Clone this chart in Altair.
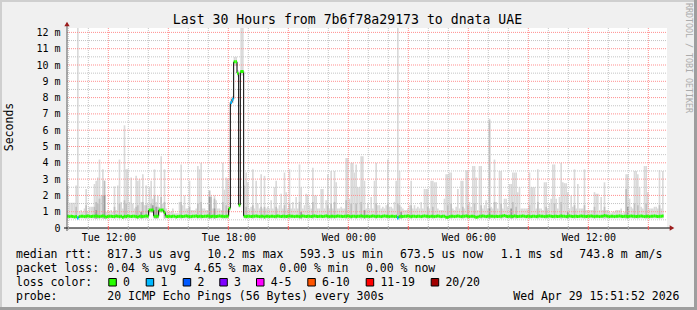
import altair as alt
import pandas as pd

# ---------------- data ----------------
START_H = 9 + 56 / 60          # Tue 09:56, hours since Tue 00:00
STEP_H = 5 / 60                # 5-minute probe interval
X_MIN, X_MAX = START_H, START_H + 30
Y_MAX = 12.27                  # ms

# max ping per interval (light smoke top), ms
smoke_top = [
    2.6, 1.55, 1.55, 1.55, 1.55, 2.6, 12.3, 1.0, 1.1, 1.0,
    1.2, 2.4, 1.0, 1.3, 1.3, 1.3, 2.7, 2.9, 3.1, 4.2,
    2.0, 3.6, 2.9, 1.0, 1.1, 1.0, 1.1, 1.0, 2.55, 1.1,
    2.6, 4.2, 1.6, 1.2, 6.3, 3.6, 3.6, 1.6, 3.1, 1.5,
    1.2, 3.2, 2.9, 3.0, 1.6, 3.3, 1.4, 2.6, 1.5, 2.5,
    2.9, 1.8, 3.6, 1.6, 2.0, 1.3, 4.4, 1.5, 3.6, 1.2,
    1.0, 1.0, 1.0, 1.2, 0.9, 0.9, 0.9, 1.6, 3.9, 1.4,
    2.0, 1.2, 1.2, 2.9, 1.1, 1.1, 1.1, 1.2, 3.8, 3.6,
    4.0, 1.2, 1.2, 1.1, 1.1, 2.3, 2.0, 1.2, 2.0, 1.7,
    1.2, 1.2, 1.1, 4.0, 2.35, 3.1, 3.0, 1.3, 8.0, 8.1,
    10.5, 10.5, 9.7, 1.5, 12.3, 12.3, 2.6, 3.4, 2.8, 1.2,
    1.3, 3.6, 1.2, 2.9, 1.5, 1.2, 3.3, 1.2, 3.2, 1.2,
    1.3, 1.2, 1.7, 1.2, 2.5, 2.9, 1.2, 1.4, 2.1, 1.2,
    3.4, 2.2, 1.2, 3.6, 1.2, 1.6, 1.2, 1.9, 1.2, 3.9,
    2.5, 1.2, 1.4, 2.1, 2.0, 1.4, 1.2, 3.7, 2.0, 2.0,
    1.2, 1.2, 2.4, 2.4, 1.2, 1.7, 3.3, 1.2, 3.5, 1.2,
    3.5, 2.8, 1.2, 1.2, 1.3, 1.2, 1.2, 4.3, 4.3, 1.8,
    4.0, 4.0, 3.4, 3.9, 2.5, 2.5, 4.4, 4.4, 2.9, 1.2,
    1.5, 1.2, 1.9, 1.2, 2.9, 4.0, 1.4, 1.4, 1.2, 1.3,
    1.2, 1.4, 4.2, 1.3, 1.3, 1.2, 1.6, 2.9, 12.3, 3.5,
    1.3, 1.2, 1.1, 1.1, 1.2, 1.4, 2.9, 1.2, 1.4, 1.2,
    1.3, 1.2, 1.6, 1.2, 2.4, 2.4, 2.4, 1.2, 2.9, 2.9,
    2.8, 2.8, 1.2, 1.1, 1.1, 1.1, 1.8, 3.3, 3.3, 3.4,
    3.4, 1.2, 1.1, 1.3, 2.4, 1.2, 2.9, 2.9, 1.2, 3.55,
    3.55, 1.6, 1.3, 3.8, 3.8, 3.1, 1.1, 3.8, 3.8, 1.2,
    1.4, 1.7, 1.2, 6.7, 1.3, 1.2, 4.2, 1.6, 1.2, 3.5,
    3.5, 1.2, 1.8, 1.8, 1.3, 2.7, 2.7, 3.4, 3.4, 3.4,
    2.2, 2.5, 1.2, 1.2, 1.2, 1.2, 1.2, 3.4, 2.5, 2.5,
    2.5, 1.2, 3.6, 1.2, 1.2, 1.1, 2.8, 2.8, 1.2, 1.5,
    1.8, 3.9, 3.9, 1.8, 1.2, 1.9, 4.0, 2.8, 2.75, 2.75,
    2.2, 1.2, 2.0, 1.3, 3.6, 1.2, 2.7, 1.2, 1.2, 1.2,
    3.6, 1.1, 1.1, 1.1, 1.1, 1.1, 2.2, 2.1, 2.1, 1.1,
    1.9, 1.1, 2.8, 1.1, 1.1, 1.0, 0.9, 1.0, 1.0, 1.1,
    1.1, 1.1, 1.2, 0.9, 1.0, 3.3, 3.3, 1.8, 1.3, 1.2,
    3.5, 3.5, 3.3, 2.5, 1.3, 1.2, 3.8, 3.8, 2.2, 1.2,
    1.2, 1.2, 1.3, 1.3, 1.2, 3.55, 1.2, 3.5,
]

# median rtt per interval, ms
median_rtt = [
    0.72, 0.70, 0.72, 0.70, 0.68, 0.70, 0.62, 0.70, 0.72, 0.72,
    0.70, 0.72, 0.74, 0.72, 0.70, 0.72, 0.72, 0.74, 0.72, 0.70,
    0.72, 0.74, 0.72, 0.68, 0.70, 0.72, 0.72, 0.70, 0.70, 0.74,
    0.72, 0.70, 0.72, 0.66, 0.72, 0.70, 0.74, 0.72, 0.70, 0.72,
    0.72, 0.70, 0.68, 0.72, 0.72, 0.70, 0.72, 0.74, 0.72, 1.10,
    1.10, 1.10, 0.72, 0.72, 0.72, 1.10, 1.10, 1.10, 0.95, 0.72,
    0.70, 0.72, 0.70, 0.72, 0.72, 0.68, 0.70, 0.72, 0.72, 0.70,
    0.72, 0.74, 0.72, 0.70, 0.70, 0.72, 0.72, 0.74, 0.70, 0.72,
    0.72, 0.70, 0.72, 0.72, 0.74, 0.72, 0.70, 0.72, 0.72, 0.70,
    0.72, 0.74, 0.72, 0.72, 0.70, 0.72, 0.72, 1.20, 7.70, 7.90,
    10.2, 10.2, 9.50, 1.40, 9.60, 9.60, 0.72, 0.70, 0.72, 0.72,
    0.70, 0.72, 0.72, 0.74, 0.72, 0.70, 0.72, 0.72, 0.68, 0.72,
    0.72, 0.70, 0.72, 0.72, 0.70, 0.72, 0.74, 0.72, 0.70, 0.72,
    0.72, 0.70, 0.72, 0.74, 0.72, 0.72, 0.70, 0.72, 0.72, 0.70,
    0.72, 0.74, 0.72, 0.70, 0.72, 0.72, 0.70, 0.72, 0.74, 0.72,
    0.70, 0.72, 0.72, 0.70, 0.72, 0.74, 0.72, 0.70, 0.72, 0.72,
    0.70, 0.72, 0.74, 0.72, 0.72, 0.70, 0.72, 0.72, 0.74, 0.72,
    0.70, 0.72, 0.72, 0.70, 0.72, 0.72, 0.74, 0.72, 0.70, 0.72,
    0.72, 0.70, 0.72, 0.74, 0.72, 0.70, 0.72, 0.72, 0.70, 0.72,
    0.74, 0.72, 0.72, 0.70, 0.72, 0.72, 0.70, 0.72, 0.62, 0.70,
    0.72, 0.70, 0.72, 0.72, 0.74, 0.72, 0.70, 0.72, 0.72, 0.70,
    0.72, 0.72, 0.70, 0.72, 0.74, 0.72, 0.72, 0.70, 0.72, 0.72,
    0.70, 0.72, 0.74, 0.72, 0.70, 0.72, 0.72, 0.66, 0.66, 0.70,
    0.72, 0.72, 0.70, 0.72, 0.74, 0.72, 0.70, 0.72, 0.72, 0.74,
    0.72, 0.70, 0.72, 0.72, 0.70, 0.66, 0.68, 0.72, 0.72, 0.74,
    0.72, 0.70, 0.72, 0.74, 0.72, 0.72, 0.70, 0.72, 0.70, 0.72,
    0.72, 0.74, 0.76, 0.72, 0.70, 0.72, 0.72, 0.70, 0.74, 0.72,
    0.70, 0.72, 0.72, 0.74, 0.72, 0.70, 0.72, 0.72, 0.70, 0.72,
    0.72, 0.70, 0.72, 0.74, 0.72, 0.72, 0.70, 0.72, 0.72, 0.74,
    0.72, 0.70, 0.72, 0.72, 0.70, 0.72, 0.74, 0.72, 0.72, 0.70,
    0.72, 0.74, 0.72, 0.70, 0.72, 0.72, 0.70, 0.72, 0.74, 0.72,
    0.72, 0.70, 0.72, 0.72, 0.74, 0.72, 0.70, 0.72, 0.72, 0.70,
    0.72, 0.72, 0.76, 0.74, 0.72, 0.70, 0.72, 0.72, 0.70, 0.72,
    0.72, 0.74, 0.72, 0.70, 0.72, 0.72, 0.70, 0.72, 0.74, 0.72,
    0.72, 0.70, 0.72, 0.72, 0.74, 0.72, 0.70, 0.72, 0.72, 0.70,
    0.72, 0.72, 0.74, 0.72, 0.70, 0.72, 0.72, 0.74,
]

SMOKE_FLOOR = 0.58                         # min ping, usual
floor_idx = [49, 50, 51, 55, 56, 57, 97, 98, 99, 100, 101, 102, 103, 104, 105]
floor_val = [0.95, 0.95, 0.95, 0.95, 0.95, 0.95, 1.05, 7.45, 7.65, 9.95, 9.95, 9.3, 1.25, 9.35, 9.35]

# mid-grey smoke (inner pings)
mid_idx = [5, 11, 16, 17, 18, 19, 21, 22, 28, 31, 34, 35, 41, 42, 45, 47, 50, 52, 54, 56,
           58, 68, 73, 78, 80, 85, 86, 88, 93, 95, 107, 111, 116, 118, 125, 130, 133, 139, 147, 156,
           158, 160, 167, 170, 173, 176, 185, 192, 198, 199, 206, 216, 219, 228, 230, 237, 240, 244, 248, 253,
           256, 260, 267, 269, 277, 282, 287, 292, 296, 304, 310, 316, 322, 335, 340, 342, 347, 355]
mid_val = [1.3, 1.4, 1.3, 1.6, 1.5, 1.8, 2.0, 2.9, 1.3, 1.5, 1.7, 1.5, 1.3, 1.4, 1.6, 1.4, 1.5, 2.0, 1.3, 1.9,
           1.6, 1.6, 1.3, 1.5, 1.6, 2.3, 1.9, 1.8, 1.6, 1.4, 1.3, 1.4, 1.3, 1.3, 1.3, 1.4, 1.5, 1.6, 1.6, 1.4,
           1.5, 1.6, 1.7, 1.5, 1.5, 1.6, 1.5, 1.5, 1.5, 1.4, 1.4, 1.3, 1.3, 1.4, 1.5, 1.3, 1.4, 1.5, 1.4, 6.6,
           1.6, 1.5, 1.6, 1.3, 1.4, 1.6, 1.3, 1.5, 1.6, 1.4, 1.4, 1.3, 1.3, 2.4, 1.5, 1.4, 1.5, 1.4]

# dark smoke (pings close to the median)
dark_idx = [17, 22, 44, 51, 53, 85, 88, 140, 178, 200, 253, 266, 300, 336]
dark_val = [1.1, 2.0, 1.0, 1.4, 1.3, 1.9, 1.2, 1.0, 1.1, 1.0, 1.2, 1.2, 1.0, 1.3]

# packet loss (lost pings of 20) where not zero
loss_idx = [6, 98, 99, 198]
loss_val = [1, 1, 1, 1]

loss_labels = ["0", "1", "2", "3", "4-5", "6-10", "11-19", "20/20"]
loss_colors = ["#26ff00", "#00b8ff", "#0059ff", "#7e00ff", "#ff00ff", "#ff5500", "#ff0000", "#a10000"]

tick_hours = [12, 18, 24, 30, 36]
tick_text = ["Tue 12:00", "Tue 18:00", "Wed 00:00", "Wed 06:00", "Wed 12:00"]
y_ticks = list(range(0, 13))

title_text = "Last 30 Hours from 7b6f78a29173 to dnata UAE"
legend_rtt = ["median rtt:", "817.3 us avg", "10.2 ms max", "593.3 us min", "673.5 us now", "1.1 ms sd", "743.8 m am/s"]
legend_loss = ["packet loss:", "0.04 % avg", "4.65 % max", "0.00 % min", "0.00 % now"]
legend_probe = ["probe:", "20 ICMP Echo Pings (56 Bytes) every 300s", "Wed Apr 29 15:51:52 2026"]

# ---------------- layout ----------------
FONT = "DejaVu Sans Mono"
W, H = 600, 200
PL, PT = 67, 28
rtt_x = [16, 107.3, 207.3, 300, 400, 500.7, 579.3]
loss_x = [16, 107.3, 194, 279.3, 366]
probe_x = [16, 107.3, 513.3]
box_x = [108.3, 145.7, 182.7, 219.3, 256, 307.3, 365.7, 430.7]

# ---------------- tables ----------------
n = len(smoke_top)
df = pd.DataFrame({
    "k": range(n),
    "top": smoke_top,
    "med": median_rtt,
})
df["t0"] = START_H + df["k"] * STEP_H
df["t1"] = df["t0"] + STEP_H
df["low"] = SMOKE_FLOOR
for i, v in zip(floor_idx, floor_val):
    df.loc[i, "low"] = v
df["loss"] = 0
for i, v in zip(loss_idx, loss_val):
    df.loc[i, "loss"] = v
df["col"] = [loss_colors[l] for l in df["loss"]]

mid_df = df.loc[mid_idx, ["t0", "t1", "low"]].copy()
mid_df["mid"] = mid_val
dark_df = df.loc[dark_idx, ["t0", "t1", "low"]].copy()
dark_df["dark"] = dark_val

steps = pd.DataFrame({
    "t": df["t0"].iloc[1:].values,
    "a": df["med"].iloc[:-1].values,
    "b": df["med"].iloc[1:].values,
})
steps = steps[steps["a"] != steps["b"]]

xs = alt.Scale(domain=[X_MIN, X_MAX], nice=False, zero=False)
ys = alt.Scale(domain=[0, Y_MAX], nice=False, zero=True)

x_expr = " : ".join(f"datum.value == {h} ? '{t}'" for h, t in zip(tick_hours, tick_text)) + " : ''"
XAX = alt.Axis(values=tick_hours, labelExpr=x_expr, grid=False, ticks=False, tickSize=0, domain=False,
               labelFont=FONT, labelFontSize=10, labelColor="#000000", labelBaseline="alphabetic",
               labelPadding=12, labelAlign="center", title=None)
YAX = alt.Axis(values=y_ticks, labelExpr="datum.value == 0 ? '0' : datum.value + ' m'",
               grid=False, ticks=False, tickSize=0, domain=False, labelFont=FONT, labelFontSize=10,
               labelColor="#000000", labelAlign="right", labelBaseline="middle", labelPadding=7, title=None)


def X(field):
    return alt.X(field, scale=xs, axis=XAX)


def Y(field):
    return alt.Y(field, scale=ys, axis=YAX)


hours = list(range(10, 40))
v_major = [h for h in hours if h % 3 == 0]
v_minor = [h for h in hours if h % 3 != 0]
h_major = list(range(1, 13))
h_minor = [i + 0.5 for i in range(12)]

# ---------------- layers ----------------
smoke = alt.Chart(df).mark_rect(color="#dadada", clip=True).encode(
    x=X("t0:Q"), x2="t1:Q", y=Y("low:Q"), y2="top:Q")
smoke_mid = alt.Chart(mid_df).mark_rect(color="#bfbfbf", clip=True).encode(
    x=X("t0:Q"), x2="t1:Q", y=Y("low:Q"), y2="mid:Q")
smoke_dark = alt.Chart(dark_df).mark_rect(color="#9a9a9a", clip=True).encode(
    x=X("t0:Q"), x2="t1:Q", y=Y("low:Q"), y2="dark:Q")


def hgrid(vals, color):
    return alt.Chart(pd.DataFrame({"v": vals})).mark_rule(
        color=color, strokeDash=[1, 1], strokeWidth=1).encode(
        y=Y("v:Q"), x=alt.value(0), x2=alt.value(W))


def vgrid(vals, color):
    return alt.Chart(pd.DataFrame({"h": vals})).mark_rule(
        color=color, strokeDash=[1, 1], strokeWidth=1).encode(
        x=X("h:Q"), y=alt.value(0), y2=alt.value(H))


def vtick(vals, color):
    return alt.Chart(pd.DataFrame({"h": vals})).mark_rule(color=color, strokeWidth=1).encode(
        x=X("h:Q"), y=alt.value(H - 2), y2=alt.value(H + 2))


MINOR_C = "#c4c4c4"
MAJOR_C = "#ff8f8f"
grid = [hgrid(h_minor, MINOR_C), vgrid(v_minor, MINOR_C), hgrid(h_major, MAJOR_C), vgrid(v_major, MAJOR_C)]

med_steps = alt.Chart(steps).mark_rule(color="#000000", strokeWidth=1).encode(
    x=X("t:Q"), y=Y("a:Q"), y2="b:Q")
med_line = alt.Chart(df).mark_rule(strokeWidth=3, clip=True).encode(
    x=X("t0:Q"), x2="t1:Q", y=Y("med:Q"),
    color=alt.Color("col:N", scale=None))

ONE = alt.Data(values=[{}])


def vrule(x, y1, y2, color, w=1):
    return alt.Chart(ONE).mark_rule(color=color, strokeWidth=w).encode(
        x=alt.value(x), y=alt.value(y1), y2=alt.value(y2))


def hrule(y, x1, x2, color, w=1):
    return alt.Chart(ONE).mark_rule(color=color, strokeWidth=w).encode(
        y=alt.value(y), x=alt.value(x1), x2=alt.value(x2))


def box(x1, y1, x2, y2, fill, stroke=None):
    kw = dict(fill=fill)
    if stroke:
        kw.update(stroke=stroke, strokeWidth=1)
    return alt.Chart(ONE).mark_rect(**kw).encode(
        x=alt.value(x1), x2=alt.value(x2), y=alt.value(y1), y2=alt.value(y2))


def txt(s, ax, ay, size=11.5, align="left", baseline="alphabetic", color="#000000", angle=0):
    return alt.Chart(ONE).mark_text(
        text=s, font=FONT, fontSize=size, align=align, baseline=baseline, color=color, angle=angle
    ).encode(x=alt.value(ax - PL), y=alt.value(ay - PT))


ARROW = "#9b1c1c"
frame = [
    vrule(0, -5, H + 3, "#5a5a5a"),
    hrule(H, -3, W + 5, "#000000"),
    alt.Chart(ONE).mark_point(shape="triangle-up", filled=True, size=28, color=ARROW, opacity=1).encode(
        x=alt.value(0), y=alt.value(-4)),
    alt.Chart(ONE).mark_point(shape="triangle-right", filled=True, size=28, color=ARROW, opacity=1).encode(
        x=alt.value(W + 5), y=alt.value(H)),
    vtick(v_minor, "#b0b0b0"),
    vtick(v_major, "#ff6060"),
    # outer 3-D border
    box(-PL, -PT, W + 30, -PT + 2, "#cfcfcf"),
    box(-PL, -PT, -PL + 2, H + 82, "#cfcfcf"),
    box(-PL, H + 79, W + 30, H + 82, "#9e9e9e"),
    box(W + 27, -PT, W + 30, H + 82, "#9e9e9e"),
]

texts = [
    txt(title_text, 347.5, 24, size=13.2, align="center"),
    txt("Seconds", 10, 127, size=11.5, align="center", baseline="middle", angle=270),
    txt("RRDTOOL / TOBI OETIKER", 688, 58, size=8.3, align="center", baseline="middle",
        color="#ababab", angle=90),
]
for s, x in zip(legend_rtt, rtt_x):
    texts.append(txt(s, x, 258))
for s, x in zip(legend_loss, loss_x):
    texts.append(txt(s, x, 272))
texts.append(txt("loss color:", 16, 286))
for lab, col, bx in zip(loss_labels, loss_colors, box_x):
    texts.append(box(bx + 0.5 - PL, 278.5 - PT, bx + 8 - PL, 286 - PT, col, "#000000"))
    texts.append(txt(lab, bx + 14.7, 286))
for s, x in zip(legend_probe, probe_x):
    texts.append(txt(s, x, 300))

chart = alt.layer(
    smoke, smoke_mid, smoke_dark, *grid, med_steps, med_line, *frame, *texts
).properties(
    width=W, height=H,
    padding={"left": PL, "top": PT, "right": 697 - PL - W, "bottom": 310 - PT - H},
    autosize=alt.AutoSizeParams(type="none"),
    background="#f0f0f0",
).configure_view(stroke=None, fill="#ffffff")

chart.save("out.html", embed_options={"renderer": "svg", "actions": False})
